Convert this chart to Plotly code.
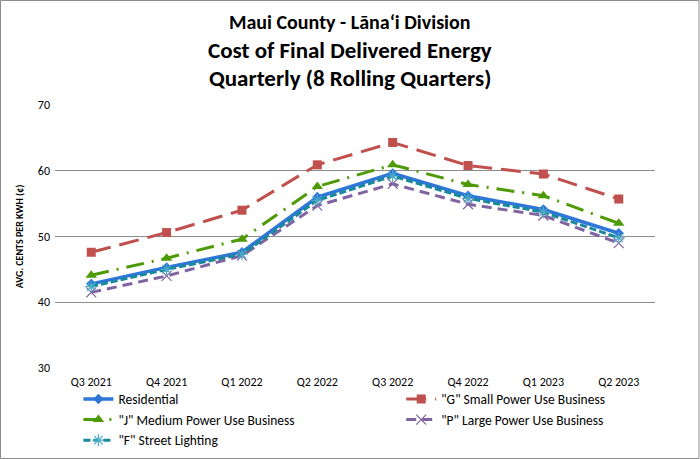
import plotly.graph_objects as go

quarters = ["Q3 2021", "Q4 2021", "Q1 2022", "Q2 2022", "Q3 2022", "Q4 2022", "Q1 2023", "Q2 2023"]
residential = [42.8, 45.3, 47.6, 56.0, 59.6, 56.2, 54.1, 50.5]
g_small = [47.6, 50.6, 54.0, 60.9, 64.3, 60.8, 59.5, 55.7]
j_medium = [44.1, 46.7, 49.6, 57.6, 60.9, 57.9, 56.2, 52.0]
p_large = [41.5, 44.0, 47.1, 54.7, 58.0, 54.9, 53.2, 49.0]
f_street = [42.4, 45.0, 47.3, 55.5, 59.2, 55.8, 53.7, 49.8]
y_ticks = [30, 40, 50, 60, 70]

FONT = "Calibri, Carlito, Lato, 'Open Sans', sans-serif"

fig = go.Figure()
fig.add_trace(go.Scatter(x=quarters, y=residential, name="Residential", mode="lines+markers",
                         legend="legend",
                         line=dict(color="#2E76D8", width=3.5),
                         marker=dict(symbol="diamond", size=8, color="#2E76D8")))
fig.add_trace(go.Scatter(x=quarters, y=g_small, name="\"G\" Small Power Use Business", mode="lines+markers",
                         legend="legend2",
                         line=dict(color="#C0504D", width=3, dash="20px,9px"),
                         marker=dict(symbol="square", size=9, color="#C0504D")))
fig.add_trace(go.Scatter(x=quarters, y=j_medium, name="\"J\" Medium Power Use Business", mode="lines+markers",
                         legend="legend",
                         line=dict(color="#4E9A06", width=3, dash="18px,8px,2px,8px"),
                         marker=dict(symbol="triangle-up", size=10, color="#4E9A06")))
fig.add_trace(go.Scatter(x=quarters, y=p_large, name="\"P\" Large Power Use Business", mode="lines+markers",
                         legend="legend2",
                         line=dict(color="#8064A2", width=3, dash="10px,6px"),
                         marker=dict(symbol="x-thin-open", size=10, color="#8064A2", line=dict(width=1.2, color="#8064A2"))))
fig.add_trace(go.Scatter(x=quarters, y=f_street, name="\"F\" Street Lighting", mode="lines+markers",
                         legend="legend",
                         line=dict(color="#17899B", width=3, dash="7px,3px"),
                         marker=dict(symbol="asterisk-open", size=10, color="#4BACC6", line=dict(width=1.2, color="#4BACC6"))))

leg_common = dict(orientation="v", xanchor="left", yanchor="top", y=-0.06, tracegroupgap=0,
                  bgcolor="rgba(0,0,0,0)", font=dict(family=FONT, size=13.5, color="#000000"))

fig.update_layout(
    width=700, height=459,
    margin=dict(l=55, r=45, t=105, b=91, autoexpand=False),
    paper_bgcolor="white", plot_bgcolor="white",
    font=dict(family=FONT, size=12, color="#000000"),
    showlegend=True,
    legend=dict(x=0.039, **leg_common),
    legend2=dict(x=0.577, **leg_common),
    xaxis=dict(type="category", showgrid=False, showline=False, ticks="", ticklabelstandoff=5,
               tickfont=dict(family=FONT, size=12, color="#000000")),
    yaxis=dict(range=[30, 70], tickvals=y_ticks, showgrid=True, gridcolor="#8C8C8C", gridwidth=1,
               zeroline=False, showline=False, ticks="", ticklabelstandoff=4,
               tickfont=dict(family=FONT, size=12, color="#000000"),
               title=dict(text="<b>AVG. CENTS PER KWH (¢)</b>", font=dict(family=FONT, size=10, color="#000000"), standoff=12)),
)

titles = [("<b>Maui County - Lānaʻi Division</b>", 20, 22),
          ("<b>Cost of Final Delivered Energy</b>", 23, 50),
          ("<b>Quarterly (8 Rolling Quarters)</b>", 23, 78)]
for txt, sz, ypx in titles:
    fig.add_annotation(text=txt, xref="paper", yref="paper", x=(350 - 55) / 600,
                       y=1 + (105 - ypx) / 263, xanchor="center", yanchor="middle",
                       showarrow=False, font=dict(family=FONT, size=sz, color="#000000"))

fig.add_shape(type="rect", xref="paper", yref="paper",
              x0=-55 / 600 + 0.5 / 600, x1=1 + 45 / 600 - 1 / 600,
              y0=-91 / 263 + 0.5 / 263, y1=1 + 105 / 263 - 0.5 / 263,
              line=dict(color="#8C8C8C", width=1), layer="below")

fig.write_html("out.html", config={"displayModeBar": False},
               post_script="document.body.style.margin='0';")
